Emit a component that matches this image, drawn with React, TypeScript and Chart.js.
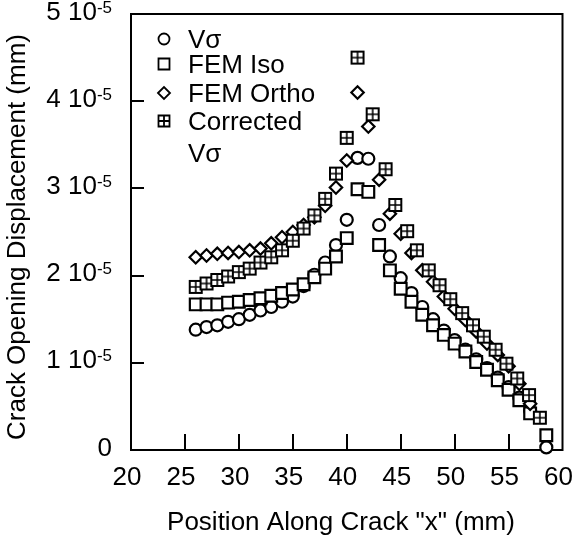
import React, { useEffect, useRef } from 'react';
import { Chart, registerables } from 'chart.js';

Chart.register(...registerables);

const FONT = '"Liberation Sans", Arial, Helvetica, sans-serif';
const INK = '#000';

// Positions along the crack (mm) shared by the Vσ and FEM Iso series
const xPositions = [
  26, 27, 28, 29, 30, 31, 32, 33, 34, 35, 36, 37, 38, 39, 40, 41, 42,
  43, 44, 45, 46, 47, 48, 49, 50, 51, 52, 53, 54, 55, 56, 57, 58.5,
];

// Crack opening displacement, in units of 10^-5 mm
const vSigma = [
  1.38, 1.41, 1.43, 1.47, 1.50, 1.55, 1.60, 1.64, 1.70, 1.76, 1.88, 2.01, 2.15, 2.35, 2.64, 3.35, 3.34,
  2.58, 2.22, 1.97, 1.80, 1.64, 1.50, 1.37, 1.26, 1.15, 1.04, 0.94, 0.83, 0.72, 0.60, 0.45, 0.03,
];

const femIso = [
  1.67, 1.67, 1.67, 1.69, 1.70, 1.72, 1.74, 1.77, 1.80, 1.84, 1.90, 1.98, 2.08, 2.22, 2.43, 2.99, 2.96,
  2.35, 2.06, 1.85, 1.70, 1.55, 1.43, 1.32, 1.22, 1.13, 1.01, 0.92, 0.80, 0.69, 0.57, 0.42, 0.17,
];

const femOrthoX = [
  26, 27, 28, 29, 30, 31, 32, 33, 34, 35, 36, 37, 38, 39, 40, 41, 42,
  43, 44, 45, 46, 47, 48, 49, 50, 51, 52, 53, 54, 55, 56, 57,
];

const femOrtho = [
  2.21, 2.23, 2.25, 2.26, 2.27, 2.29, 2.31, 2.37, 2.44, 2.50, 2.58, 2.67, 2.80, 3.01, 3.32, 4.10, 3.71,
  3.10, 2.71, 2.48, 2.26, 2.06, 1.93, 1.76, 1.62, 1.49, 1.36, 1.22, 1.09, 0.96, 0.76, 0.53,
];

const correctedX = [
  26, 27, 28, 29, 30, 31, 32, 33, 34, 35, 36, 37, 38, 39, 40, 41,
  42.4, 43.6, 44.5, 45.6, 46.5, 47.6, 48.6, 49.6, 50.7, 51.7, 52.7, 53.8, 54.8, 55.8, 56.9, 57.9,
];

const corrected = [
  1.87, 1.91, 1.95, 1.99, 2.04, 2.08, 2.15, 2.21, 2.29, 2.40, 2.54, 2.69, 2.88, 3.17, 3.58, 4.50,
  3.85, 3.22, 2.81, 2.51, 2.29, 2.06, 1.89, 1.73, 1.57, 1.43, 1.30, 1.15, 0.99, 0.82, 0.63, 0.37,
];

const xTicks = [20, 25, 30, 35, 40, 45, 50, 55, 60];
const yTicks = [0, 1, 2, 3, 4, 5];
const yExponent = '-5';

const xTitle = 'Position Along Crack "x" (mm)';
const yTitle = 'Crack Opening Displacement (mm)';
const legendLabels = ['Vσ', 'FEM Iso', 'FEM Ortho', 'Corrected', 'Vσ'];

// Square with a cross through it, used as the "Corrected Vσ" marker
function boxedPlus(size: number, lw: number, crossW: number): HTMLCanvasElement {
  const s = size + 2;
  const c = document.createElement('canvas');
  c.width = s;
  c.height = s;
  const g = c.getContext('2d')!;
  g.fillStyle = '#fff';
  g.fillRect(1, 1, size, size);
  g.strokeStyle = INK;
  g.lineWidth = lw;
  g.strokeRect(1 + lw / 2, 1 + lw / 2, size - lw, size - lw);
  g.lineWidth = crossW;
  g.beginPath();
  g.moveTo(s / 2, 1);
  g.lineTo(s / 2, s - 1);
  g.moveTo(1, s / 2);
  g.lineTo(s - 1, s / 2);
  g.stroke();
  return c;
}

const pts = (xs: number[], ys: number[]) => xs.map((x, i) => ({ x, y: ys[i] }));

const framePlugin = {
  id: 'frameAndTicks',
  beforeDatasetsDraw(chart: any) {
    const { ctx, chartArea: a, scales } = chart;
    ctx.save();
    ctx.strokeStyle = INK;
    ctx.lineWidth = 2;
    ctx.strokeRect(a.left, a.top, a.right - a.left, a.bottom - a.top);
    ctx.beginPath();
    xTicks.slice(1, -1).forEach((v) => {
      const px = Math.round(scales.x.getPixelForValue(v));
      ctx.moveTo(px, a.bottom);
      ctx.lineTo(px, a.bottom - 16);
    });
    yTicks.slice(1, -1).forEach((v) => {
      const py = Math.round(scales.y.getPixelForValue(v));
      ctx.moveTo(a.left, py);
      ctx.lineTo(a.left + 13, py);
    });
    ctx.stroke();
    ctx.restore();
  },
};

const textPlugin = {
  id: 'texts',
  afterDraw(chart: any) {
    const { ctx, scales } = chart;
    ctx.save();
    ctx.fillStyle = INK;
    ctx.textBaseline = 'alphabetic';

    // y tick labels with a superscript exponent
    const right = 112;
    yTicks.forEach((v) => {
      const py = scales.y.getPixelForValue(v);
      ctx.font = `26px ${FONT}`;
      if (v === 0) {
        ctx.textAlign = 'right';
        ctx.fillText('0', right, py + 5.5);
        return;
      }
      const main = `${v} 10`;
      const mw = ctx.measureText(main).width;
      ctx.font = `17px ${FONT}`;
      const sw = ctx.measureText(yExponent).width;
      ctx.textAlign = 'left';
      ctx.fillText(yExponent, right - sw, py - 1.5);
      ctx.font = `26px ${FONT}`;
      ctx.fillText(main, right - sw - mw, py + 5.5);
    });

    // axis titles
    ctx.font = `26px ${FONT}`;
    ctx.textAlign = 'center';
    ctx.fillText(xTitle, 341, 530);
    ctx.save();
    ctx.translate(25, 237);
    ctx.rotate(-Math.PI / 2);
    ctx.fillText(yTitle, 0, 0);
    ctx.restore();

    // legend
    const sx = 164;
    const tx = 188;
    const baselines = [48, 73, 102, 130, 162];
    ctx.textAlign = 'left';
    legendLabels.forEach((t, i) => ctx.fillText(t, tx, baselines[i]));
    ctx.strokeStyle = INK;
    ctx.lineWidth = 1.8;
    ctx.fillStyle = '#fff';
    // circle
    ctx.beginPath();
    ctx.arc(sx, baselines[0] - 9, 5.5, 0, Math.PI * 2);
    ctx.fill();
    ctx.stroke();
    // square
    ctx.beginPath();
    ctx.rect(sx - 5.5, baselines[1] - 9 - 5.5, 11, 11);
    ctx.fill();
    ctx.stroke();
    // diamond
    const dy = baselines[2] - 9;
    ctx.beginPath();
    ctx.moveTo(sx - 6, dy);
    ctx.lineTo(sx, dy - 6);
    ctx.lineTo(sx + 6, dy);
    ctx.lineTo(sx, dy + 6);
    ctx.closePath();
    ctx.fill();
    ctx.stroke();
    // boxed plus
    const by = baselines[3] - 9;
    ctx.beginPath();
    ctx.rect(sx - 5.5, by - 5.5, 11, 11);
    ctx.fill();
    ctx.moveTo(sx, by - 5.5);
    ctx.lineTo(sx, by + 5.5);
    ctx.moveTo(sx - 5.5, by);
    ctx.lineTo(sx + 5.5, by);
    ctx.stroke();
    ctx.restore();
  },
};

export default function App() {
  const ref = useRef<HTMLCanvasElement | null>(null);

  useEffect(() => {
    if (!ref.current) return;
    const plus = boxedPlus(14, 2, 1.6);
    const common = {
      borderColor: INK,
      backgroundColor: '#fff',
      borderWidth: 2.2,
      showLine: false,
      clip: false as const,
    };
    const chart = new Chart(ref.current, {
      type: 'scatter',
      data: {
        datasets: [
          {
            ...common,
            label: 'Vσ',
            data: pts(xPositions, vSigma),
            pointStyle: 'circle',
            pointRadius: 6,
            order: 3,
          },
          {
            ...common,
            label: 'FEM Iso',
            data: pts(xPositions, femIso),
            pointStyle: 'rect',
            pointRadius: 8.3,
            order: 2,
          },
          {
            ...common,
            label: 'FEM Ortho',
            data: pts(femOrthoX, femOrtho),
            pointStyle: 'rectRot',
            pointRadius: 6.2,
            order: 1,
          },
          {
            ...common,
            label: 'Corrected Vσ',
            data: pts(correctedX, corrected),
            pointStyle: plus as any,
            pointRadius: 7,
            order: 0,
          },
        ],
      },
      options: {
        animation: false,
        responsive: false,
        devicePixelRatio: 1,
        layout: { padding: { top: 14, right: 10.5, left: 0, bottom: 0 } },
        plugins: {
          legend: { display: false },
          tooltip: { enabled: false },
        },
        scales: {
          x: {
            type: 'linear',
            min: 20,
            max: 60,
            afterBuildTicks: (s: any) => {
              s.ticks = xTicks.map((value) => ({ value }));
            },
            afterFit: (s: any) => {
              s.height = 90;
              s.paddingLeft = 0;
              s.paddingRight = 0;
            },
            ticks: {
              color: INK,
              font: { family: FONT, size: 26 },
              padding: 12,
              labelOffset: -4,
              maxRotation: 0,
              autoSkip: false,
            },
            grid: { display: false, drawTicks: false },
            border: { display: false },
          },
          y: {
            type: 'linear',
            min: 0,
            max: 5,
            afterFit: (s: any) => {
              s.width = 131;
              s.paddingTop = 0;
              s.paddingBottom = 0;
            },
            ticks: { display: false },
            grid: { display: false, drawTicks: false },
            border: { display: false },
          },
        },
      },
      plugins: [framePlugin, textPlugin],
    });
    return () => chart.destroy();
  }, []);

  return (
    <div style={{ position: 'absolute', left: 0, top: 0, width: 573, height: 540, background: '#fff' }}>
      <canvas ref={ref} width={573} height={540} />
    </div>
  );
}
